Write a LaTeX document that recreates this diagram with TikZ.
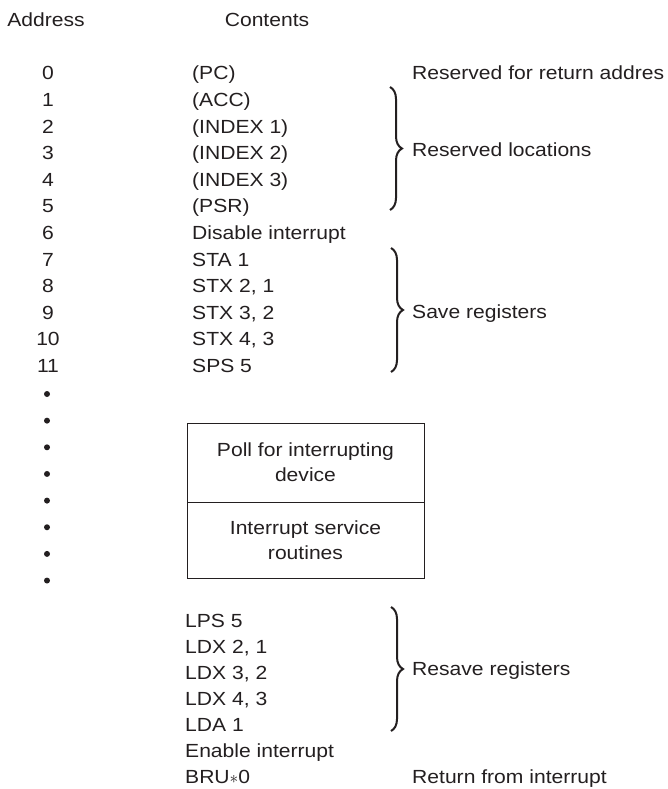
\documentclass[tikz,border=0pt]{standalone}
\usepackage{fontspec}
\setmainfont{Liberation Sans}[FakeStretch=1.11]
\usetikzlibrary{decorations.pathreplacing}
\definecolor{ink}{RGB}{35,31,32}
\begin{document}
\begin{tikzpicture}[x=1pt,y=-1pt,
  every node/.style={font=\fontsize{19}{25}\selectfont, text=ink, inner sep=0pt},
  txt/.style={text height=13.6pt, text depth=0pt},
  lbl/.style={txt, anchor=west},
  addr/.style={txt, anchor=center},
  dotnode/.style={circle, fill=ink, minimum size=6pt},
  boxnode/.style={draw=ink, line width=1pt, minimum width=237pt, align=center},
  bracestyle/.style={decorate, decoration={brace, amplitude=12pt}, line width=2pt, draw=ink}]
\useasboundingbox (0,0) rectangle (668,789);

% headers
\node[addr] (haddr) at (46,20) {Address};
\node[addr] (hcont) at (267,20) {Contents};

% numbered rows
\foreach \t [count=\i from 0] in {{(PC)},{(ACC)},{(INDEX 1)},{(INDEX 2)},{(INDEX 3)},{(PSR)},{Disable interrupt},{STA 1},{STX 2, 1},{STX 3, 2},{STX 4, 3},{SPS 5}} {
  \node[addr] (a\i) at (48,{73+26.6*\i}) {\i};
  \node[lbl] (c\i) at (192,{73+26.6*\i}) {\t};
}

% dots
\foreach \k in {0,...,7} {
  \node[dotnode] (d\k) at (47,{394+26.65*\k}) {};
}

% box
\node[boxnode, minimum height=79pt] (poll) at (305.5,462.5) {Poll for interrupting\\device};
\node[boxnode, minimum height=76pt] (isr) at (305.5,540) {Interrupt service\\routines};

% bottom rows
\foreach \t [count=\j from 0] in {{LPS 5},{LDX 2, 1},{LDX 3, 2},{LDX 4, 3},{LDA 1},{Enable interrupt},{BRU$\ast$0}} {
  \node[lbl] (b\j) at (185,{621+26.0*\j}) {\t};
}

% braces
\coordinate (r1) at (390,87);  \coordinate (r2) at (390,210);
\coordinate (s1) at (391,248); \coordinate (s2) at (391,372);
\coordinate (t1) at (391,607); \coordinate (t2) at (391,731);
\draw[bracestyle] (r1) -- (r2);
\draw[bracestyle] (s1) -- (s2);
\draw[bracestyle] (t1) -- (t2);

% right labels
\node[lbl] (lret) at (412,73) {Reserved for return addres};
\node[lbl] (lres) at (412,150) {Reserved locations};
\node[lbl] (lsave) at (412,312) {Save registers};
\node[lbl] (lresave) at (412,669) {Resave registers};
\node[lbl] (lreturn) at (412,777) {Return from interrupt};
\end{tikzpicture}
\end{document}
